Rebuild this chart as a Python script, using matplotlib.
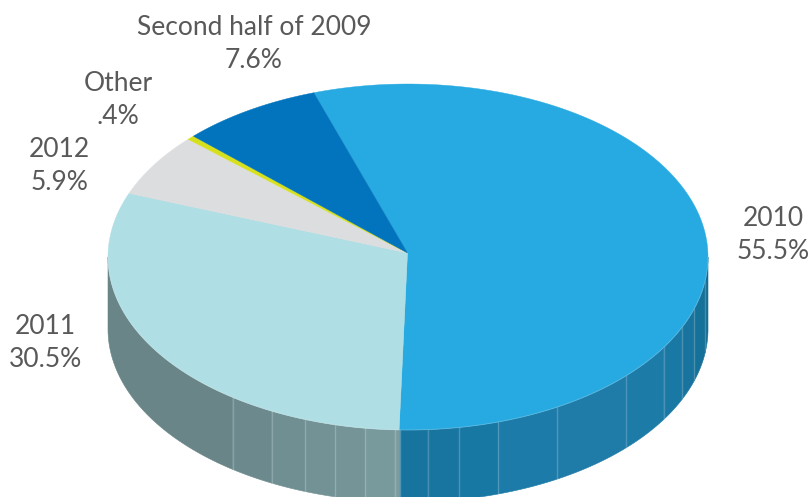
import numpy as np
import matplotlib
matplotlib.use("Agg")
import matplotlib.pyplot as plt

plt.rcParams['font.family'] = ['Lato', 'DejaVu Sans']

# share of each period, clockwise from the top of the pie
names = ['2010', '2011', '2012', 'Other', 'Second half of 2009']
shares = np.array([55.5, 30.5, 5.9, 0.4, 7.6])
top_colors = ['#27aae1', '#afdee4', '#dcdddf', '#d6e01c', '#0274bd']

# pie layout in pixels
cx, cy = 408, 257
apex_x, apex_y = 407.5, 253
rx, ry = 300, 173
depth = 72
start = 108.3

# facet seams on the front wall, angles in degrees
grey_seams = [180, 234.2, 243, 250, 256, 261.8, 267.5, 268.5]
blue_seams = [268.5, 273.8, 279.8, 287.5, 299.8, 316.6, 328.5, 336, 342.5, 352, 360]
grey_wall = ['#698587', '#6c8a8e', '#6f8f93', '#729295', '#749497', '#789a9d', '#7a9c9f']
blue_wall = ['#17749e', '#17759f', '#1878a4', '#1c7ba8', '#1f7ca9',
             '#1d7ba8', '#1a78a4', '#18749e', '#167199', '#146d94']


def rim(a, dy=0):
    a = np.radians(a)
    return cx + rx * np.cos(a), cy - ry * np.sin(a) + dy


def wall(ax, a0, a1, color):
    # a0 and a1 run through the lower half of the ellipse
    t = np.linspace(a0, a1, 60)
    x, y = rim(t)
    xb, yb = rim(t[::-1], depth)
    ax.fill(np.r_[x, xb], np.r_[y, yb], color=color, lw=0.4, zorder=1)


fig = plt.figure(figsize=(8.10, 4.97), dpi=100)
ax = fig.add_axes([0, 0, 1, 1])
ax.set_xlim(0, 810)
ax.set_ylim(497, 0)
ax.axis('off')

# front wall, grey part belongs to the 2011 slice
for i in range(len(grey_seams) - 1):
    wall(ax, grey_seams[i], grey_seams[i + 1], grey_wall[i])
for i in range(len(blue_seams) - 1):
    wall(ax, blue_seams[i], blue_seams[i + 1], blue_wall[i])

for a in grey_seams[1:] + blue_seams[1:-1]:
    x0, y0 = rim(a)
    ax.plot([x0, x0], [y0, y0 + depth], color='#ffffff', alpha=0.2, lw=1, zorder=2)

# top face
edges = start - np.r_[0, np.cumsum(shares / shares.sum() * 360)]
for i in range(len(shares)):
    t = np.linspace(edges[i], edges[i + 1], 200)
    x, y = rim(t)
    ax.fill(np.r_[apex_x, x], np.r_[apex_y, y], color=top_colors[i], lw=0.3, zorder=3)

# light line along the front rim
t = np.linspace(180, 360, 300)
ax.plot(*rim(t), color='#ffffff', alpha=0.2, lw=0.7, zorder=4)

# labels
label_x = [773, 45, 59, 118, 254]
label_y = [235, 343, 166, 100, 44]
for name, v, lx, ly in zip(names, shares, label_x, label_y):
    txt = name + '\n' + f'{v:.1f}'.lstrip('0') + '%'
    ax.text(lx, ly, txt, ha='center', va='center', fontsize=19, color='#595959',
            linespacing=1.38, zorder=5)

fig.savefig('out.png', dpi=100)
